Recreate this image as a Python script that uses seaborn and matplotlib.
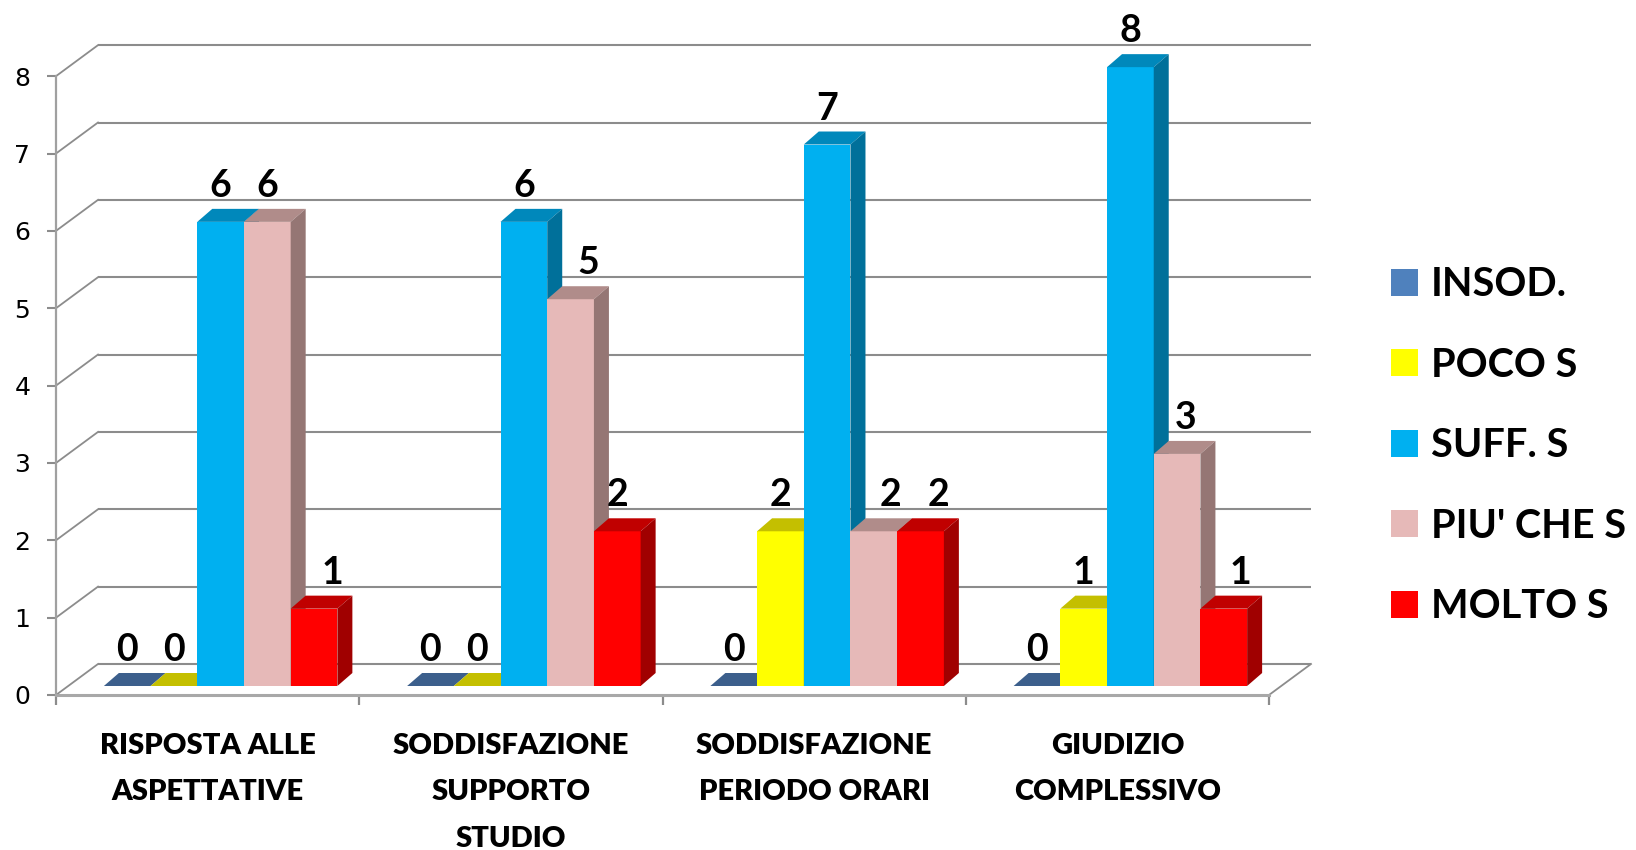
import numpy as np
import pandas as pd
import matplotlib
matplotlib.use("Agg")
import matplotlib.pyplot as plt
import matplotlib.transforms as mtransforms
from matplotlib.patches import Polygon, Patch
from matplotlib.ticker import FixedLocator
import seaborn as sns

# dati del grafico
categorie = ["RISPOSTA ALLE\nASPETTATIVE", "SODDISFAZIONE\nSUPPORTO\nSTUDIO",
             "SODDISFAZIONE\nPERIODO ORARI", "GIUDIZIO\nCOMPLESSIVO"]
serie = ["INSOD.", "POCO S", "SUFF. S", "PIU' CHE S", "MOLTO S"]
insod = [0, 0, 0, 0]
poco = [0, 0, 2, 1]
suff = [6, 6, 7, 8]
piu = [6, 5, 2, 3]
molto = [1, 2, 2, 1]
y_ticks = [0, 1, 2, 3, 4, 5, 6, 7, 8]

# colori: faccia frontale, superiore, laterale
col_front = ["#4F81BD", "#FFFF00", "#00B0F0", "#E6B9B8", "#FF0000"]
col_top = ["#3C5F8C", "#C4BF00", "#0088BB", "#B08C8A", "#C00000"]
col_side = ["#2F4B70", "#A09C00", "#00709A", "#957674", "#A00000"]

valori = [insod, poco, suff, piu, molto]
df = pd.DataFrame({
    "categoria": [c for v in valori for c in categorie],
    "serie": [s for s, v in zip(serie, valori) for _ in v],
    "valore": [x for v in valori for x in v],
})

W, H = 1636, 850
box = [56, 155, 1213, 673]  # px: left, bottom, width, height
YMAX = 8.7
px_x = box[2] / len(categorie)
px_y = box[3] / YMAX
back_dx, back_dy = 42 / px_x, 31 / px_y   # profondita' della parete di fondo
bar_dx, bar_dy = 15 / px_x, 13 / px_y     # profondita' delle barre

fig = plt.figure(figsize=(W / 100, H / 100), dpi=100)
ax = fig.add_axes([box[0] / W, box[1] / H, box[2] / W, box[3] / H])

sns.barplot(data=df, x="categoria", y="valore", hue="serie", order=categorie,
            hue_order=serie, palette=dict(zip(serie, col_front)), saturation=1,
            width=0.77, linewidth=0, errorbar=None, legend=False, ax=ax)

ax.set_xlim(-0.5, len(categorie) - 0.5)
ax.set_ylim(0, YMAX)

# barre spostate leggermente verso il fondo
shift = mtransforms.ScaledTranslation(13 / 100, 9 / 100, fig.dpi_scale_trans)
tr = ax.transData + shift

# spostamenti delle etichette (punti)
label_nudge = {(0, 4): 13, (1, 3): 13, (2, 3): 12, (2, 4): 13, (3, 3): 6, (3, 4): 12}

for i, cont in enumerate(ax.containers):
    for j, rect in enumerate(cont):
        x0, w, h = rect.get_x(), rect.get_width(), rect.get_height()
        rect.set_transform(tr)
        rect.set_zorder(3 + i)
        top = Polygon([(x0, h), (x0 + w, h), (x0 + w + bar_dx, h + bar_dy), (x0 + bar_dx, h + bar_dy)],
                      closed=True, facecolor=col_top[i], linewidth=0, transform=tr, zorder=3 + i)
        side = Polygon([(x0 + w, 0), (x0 + w + bar_dx, bar_dy), (x0 + w + bar_dx, h + bar_dy), (x0 + w, h)],
                       closed=True, facecolor=col_side[i], linewidth=0, transform=tr, zorder=3 + i)
        ax.add_patch(top)
        ax.add_patch(side)
        ax.annotate(f"{h:.0f}", xy=(x0 + w / 2, h), xycoords=tr,
                    xytext=(label_nudge.get((j, i), 0), 18), textcoords="offset points",
                    ha="center", va="baseline", fontsize=27, fontweight="bold",
                    family="Lato", color="black", zorder=20, annotation_clip=False)

# griglia sulla parete di fondo
grid_col = "#8C8C8C"
x_lo, x_hi = ax.get_xlim()
for y in y_ticks:
    ax.plot([x_lo + back_dx, x_hi + back_dx], [y + back_dy, y + back_dy], color=grid_col,
            lw=1.5, zorder=1, clip_on=False, solid_capstyle="butt")
    ax.plot([x_lo, x_lo + back_dx], [y, y + back_dy], color=grid_col,
            lw=1.3, zorder=1, clip_on=False)
ax.plot([x_hi, x_hi + back_dx], [0, back_dy], color=grid_col, lw=1.3, zorder=1, clip_on=False)

# assi
for s in ["top", "right"]:
    ax.spines[s].set_visible(False)
ax.spines["left"].set_bounds(0, y_ticks[-1])
ax.spines["left"].set_color("#A0A0A0")
ax.spines["left"].set_linewidth(1.6)
ax.spines["bottom"].set_color("#A8A8A8")
ax.spines["bottom"].set_linewidth(2.2)

ax.set_yticks(y_ticks)
ax.tick_params(axis="y", length=6.5, width=1.5, color="#8C8C8C", pad=12, labelsize=18)
for t in ax.get_yticklabels():
    t.set_family("DejaVu Sans")

ax.xaxis.set_minor_locator(FixedLocator(np.arange(x_lo, x_hi + 0.01, 1.0)))
ax.tick_params(axis="x", which="major", length=0, pad=27)
ax.tick_params(axis="x", which="minor", length=7, width=1.6, color="#8C8C8C")
for t in ax.get_xticklabels():
    t.set_family("Lato")
    t.set_fontweight("heavy")
    t.set_fontsize(21)
    t.set_linespacing(1.98)

ax.set_xlabel("")
ax.set_ylabel("")

handles = [Patch(facecolor=c, edgecolor="none") for c in col_front]
ax.legend(handles, serie, loc="upper left", bbox_to_anchor=(1391 / W, (H - 266) / H),
          bbox_transform=fig.transFigure, frameon=False,
          prop={"family": "Lato", "weight": "bold", "size": 28.5},
          handlelength=0.67, handleheight=0.67, handletextpad=0.33,
          labelspacing=1.1, borderpad=0, borderaxespad=0)

fig.savefig("out.png", dpi=100)
